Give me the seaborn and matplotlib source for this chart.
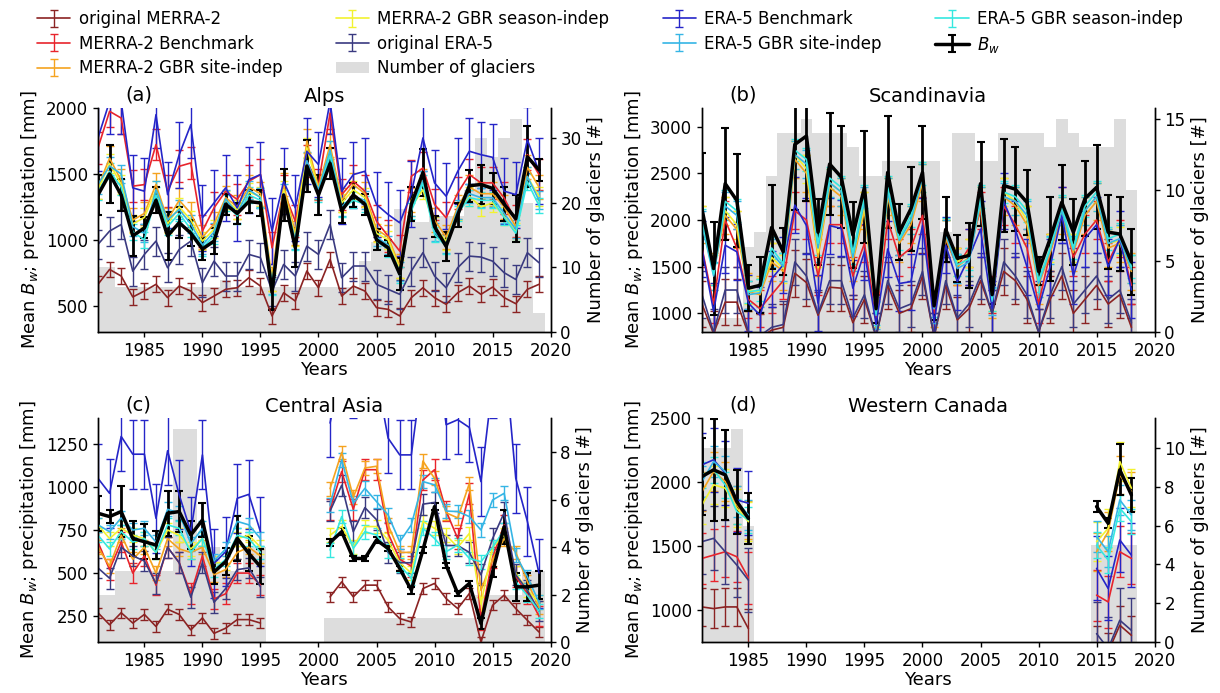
import numpy as np
import matplotlib
matplotlib.use("Agg")
import matplotlib.pyplot as plt
from matplotlib.patches import Patch
from matplotlib.ticker import MultipleLocator
import seaborn as sns

nan = np.nan
gap5 = [nan] * 5
gap29 = [nan] * 29

series_names = ["original MERRA-2", "MERRA-2 Benchmark", "MERRA-2 GBR site-indep",
                "MERRA-2 GBR season-indep", "original ERA-5", "ERA-5 Benchmark",
                "ERA-5 GBR site-indep", "ERA-5 GBR season-indep"]
series_colors = ["#8b2323", "#e8242c", "#f5a31f", "#f2f230",
                 "#3a3a80", "#2525c8", "#35b5e5", "#35e8e0"]

# ---------------- (a) Alps, 1981-2019 ----------------
alps_years = list(range(1981, 2020))
alps_glaciers = [10, 10, 7, 7, 7, 7, 7, 7, 7, 7, 7, 8, 7, 7, 7, 7, 7, 7, 7, 7,
                 7, 7, 7, 11, 14, 14, 19, 17, 17, 18, 18, 18, 22, 30, 27, 30, 33, 20, 3]
alps_merra_orig = [662, 775, 725, 566, 611, 662, 561, 649, 611, 523,
                   573, 624, 636, 712, 649, 422, 598, 535, 763, 636,
                   851, 573, 649, 611, 485, 472, 422, 561, 636, 561,
                   510, 598, 649, 586, 641, 561, 515, 624, 662]
alps_merra_bench = [1697, 1975, 1924, 1407, 1419, 1722, 1369, 1558, 1583, 1066,
                    1242, 1369, 1306, 1444, 1495, 939, 1369, 1141, 1596, 1419,
                    1962, 1343, 1444, 1369, 1141, 1028, 914, 1482, 1545, 1268,
                    1167, 1356, 1495, 1432, 1432, 1318, 1141, 1646, 1495]
alps_merra_site = [1400, 1620, 1450, 1150, 1200, 1420, 1150, 1300, 1200, 1020,
                   1120, 1320, 1250, 1400, 1350, 700, 1420, 1050, 1750, 1400,
                   1720, 1300, 1420, 1350, 1080, 1020, 800, 1300, 1450, 1150,
                   1020, 1250, 1400, 1350, 1350, 1250, 1100, 1550, 1400]
alps_merra_season = [1380, 1580, 1420, 1120, 1170, 1380, 1120, 1250, 1150, 990,
                     1080, 1300, 1230, 1360, 1330, 680, 1380, 1020, 1700, 1380,
                     1680, 1280, 1380, 1320, 1050, 1000, 780, 1250, 1380, 1100,
                     990, 1220, 1330, 1250, 1280, 1180, 1060, 1480, 1330]
alps_era_orig = [965, 1066, 1116, 762, 889, 990, 788, 927, 990, 674,
                 838, 725, 725, 889, 864, 611, 813, 725, 952, 889,
                 1116, 712, 801, 801, 662, 624, 586, 763, 902, 725,
                 636, 788, 876, 869, 838, 750, 699, 902, 826]
alps_era_bench = [1773, 2050, 2050, 1394, 1369, 1950, 1343, 1646, 1874, 1167,
                  1280, 1394, 1242, 1457, 1495, 1066, 1444, 1242, 1672, 1571,
                  2050, 1369, 1495, 1520, 1268, 1192, 1129, 1350, 1773, 1432,
                  1331, 1520, 1672, 1646, 1626, 1369, 1343, 1760, 1520]
alps_era_site = [1420, 1560, 1500, 1100, 1050, 1380, 1150, 1230, 1120, 960,
                 1060, 1310, 1200, 1380, 1320, 660, 1350, 1000, 1600, 1380,
                 1680, 1250, 1330, 1300, 1020, 960, 760, 1250, 1450, 1060,
                 970, 1230, 1350, 1320, 1320, 1200, 1080, 1480, 1300]
alps_era_season = [1360, 1520, 1400, 1060, 1000, 1340, 1100, 1200, 1080, 940,
                   1030, 1280, 1180, 1340, 1300, 640, 1320, 980, 1560, 1350,
                   1640, 1230, 1300, 1270, 990, 930, 730, 1220, 1430, 1040,
                   950, 1200, 1320, 1300, 1300, 1170, 1050, 1440, 1260]
alps_bw = [1340, 1500, 1340, 1030, 1090, 1300, 1030, 1130, 1050, 930,
           990, 1270, 1200, 1290, 1280, 600, 1340, 940, 1560, 1340,
           1580, 1220, 1340, 1270, 1000, 940, 740, 1270, 1510, 1100,
           950, 1190, 1410, 1420, 1390, 1270, 1160, 1630, 1530]
alps_bw_err = [150, 220, 120, 150, 80, 100, 180, 120, 100, 80,
               100, 80, 80, 90, 100, 130, 200, 150, 200, 150,
               120, 90, 90, 80, 80, 60, 120, 130, 180, 80,
               110, 90, 120, 150, 120, 130, 180, 230, 80]
alps_err = [60, 120, 90, 70, 110, 250, 70, 60]

# ---------------- (b) Scandinavia, 1981-2018 ----------------
scan_years = list(range(1981, 2019))
scan_glaciers = [1, 1, 1, 1, 6, 7, 11, 14, 14, 15, 14, 14, 14, 13, 11, 11, 12, 12, 12, 12,
                 12, 7, 14, 14, 12, 12, 14, 14, 14, 14, 13, 15, 14, 13, 13, 13, 15, 10]
scan_merra_orig = [1100, 780, 1120, 1120, 780, 740, 820, 850, 1430, 1330,
                   980, 1280, 1270, 900, 1150, 750, 1300, 1000, 1050, 1400,
                   750, 1300, 930, 1050, 1350, 1000, 1450, 1350, 1150, 800,
                   1150, 1400, 1000, 1150, 1300, 1100, 1200, 850]
scan_merra_bench = [1700, 1100, 2000, 1700, 1150, 1050, 1200, 1350, 2100, 2000,
                    1400, 1950, 1950, 1400, 1750, 950, 2000, 1600, 1700, 2050,
                    1000, 1800, 1500, 1700, 2100, 1200, 2150, 1950, 1700, 1100,
                    1650, 2150, 1600, 1850, 2000, 1550, 1800, 1300]
scan_merra_site = [1950, 1450, 2050, 1900, 1230, 1200, 1550, 1450, 2650, 2500,
                   1600, 2350, 2250, 1550, 2100, 980, 2250, 1750, 1950, 2400,
                   1050, 1800, 1500, 1600, 2150, 1150, 2250, 2150, 1950, 1300,
                   1650, 2050, 1650, 2050, 2200, 1700, 1750, 1450]
scan_merra_season = [2000, 1480, 2100, 1950, 1250, 1230, 1600, 1480, 2700, 2550,
                     1650, 2400, 2300, 1600, 2150, 1000, 2300, 1780, 2000, 2450,
                     1080, 1850, 1550, 1650, 2200, 1180, 2300, 2200, 2000, 1330,
                     1700, 2100, 1700, 2100, 2250, 1750, 1780, 1480]
scan_era_orig = [1200, 800, 1250, 1250, 800, 760, 850, 880, 1550, 1400,
                 1000, 1350, 1350, 950, 1200, 750, 1350, 1050, 1100, 1450,
                 750, 1350, 950, 1100, 1400, 1000, 1550, 1400, 1200, 800,
                 1200, 1500, 1100, 1250, 1400, 1150, 1250, 900]
scan_era_bench = [1690, 1020, 1730, 1660, 1110, 980, 1370, 1520, 2160, 1940,
                  1110, 1940, 1910, 1270, 1660, 880, 1690, 1320, 1340, 1940,
                  900, 1730, 1340, 1600, 1900, 1050, 2200, 1900, 1500, 1050,
                  1500, 2050, 1400, 1800, 1950, 1500, 1800, 1250]
scan_era_site = [1950, 1400, 2150, 2050, 1200, 1220, 1650, 1500, 2700, 2600,
                 1700, 2400, 2300, 1600, 2200, 980, 2300, 1780, 2000, 2450,
                 1050, 1850, 1480, 1550, 2200, 1130, 2250, 2200, 2050, 1320,
                 1680, 2100, 1680, 2100, 2250, 1750, 1800, 1470]
scan_era_season = [2000, 1420, 2200, 2100, 1230, 1250, 1700, 1530, 2750, 2650,
                   1750, 2450, 2350, 1650, 2250, 1000, 2350, 1800, 2050, 2500,
                   1080, 1900, 1520, 1580, 2250, 1150, 2300, 2250, 2100, 1350,
                   1700, 2150, 1700, 2150, 2300, 1800, 1850, 1500]
scan_bw = [2120, 1480, 2390, 2210, 1270, 1300, 1920, 1660, 2810, 2900,
           1870, 2600, 2460, 1840, 2350, 1050, 2510, 1870, 2120, 2510,
           1080, 1900, 1590, 1620, 2390, 1200, 2370, 2330, 2190, 1450,
           1800, 2190, 1870, 2230, 2350, 1870, 1850, 1550]
scan_bw_err = [600, 500, 600, 500, 250, 300, 450, 250, 700, 700,
               350, 550, 550, 350, 600, 150, 600, 300, 450, 500,
               150, 350, 250, 350, 450, 100, 500, 450, 350, 150,
               450, 400, 350, 400, 450, 400, 400, 350]
scan_err = [250, 200, 200, 150, 250, 300, 150, 120]

# ---------------- (c) Central Asia, 1981-2019 (gap 1996-2000) ----------------
casia_years = list(range(1981, 2020))
casia_glaciers = [2, 2, 3, 3, 3, 3, 3, 9, 9, 4, 4, 3, 3, 4, 4, 0, 0, 0, 0, 0,
                  1, 1, 1, 1, 1, 1, 1, 1, 1, 1, 1, 1, 1, 2, 2, 2, 2, 3, 3]
casia_merra_orig = [270, 200, 270, 210, 260, 190, 290, 260, 170, 240, 150, 180, 230, 230, 210] + gap5 + \
                   [362, 449, 362, 430, 430, 304, 236, 216, 410, 440, 352, 294, 381, 100, 313, 372, 294, 226, 158]
casia_merra_bench = [680, 520, 680, 500, 600, 430, 650, 560, 380, 600, 350, 380, 500, 500, 430] + gap5 + \
                    [870, 1090, 870, 1100, 1100, 730, 580, 540, 1040, 1100, 860, 700, 960, 230, 590, 780, 480, 380, 250]
casia_merra_site = [650, 540, 720, 580, 650, 500, 700, 640, 620, 650, 490, 520, 620, 650, 600] + gap5 + \
                   [990, 1200, 940, 1110, 1120, 780, 620, 620, 1150, 1050, 850, 820, 1020, 400, 580, 700, 620, 450, 300]
casia_merra_season = [780, 700, 760, 720, 700, 620, 750, 720, 640, 700, 560, 560, 700, 720, 650] + gap5 + \
                     [720, 770, 650, 770, 770, 690, 560, 500, 800, 760, 720, 650, 730, 320, 650, 720, 500, 400, 330]
casia_era_orig = [530, 470, 650, 600, 570, 440, 650, 560, 360, 560, 330, 410, 520, 530, 420] + gap5 + \
                 [860, 1010, 740, 880, 810, 620, 560, 560, 900, 910, 660, 660, 620, 490, 700, 850, 490, 400, 280]
casia_era_bench = [1050, 963, 1293, 1190, 1190, 818, 1210, 954, 740, 1186, 556, 624, 934, 957, 740] + gap5 + \
                  [1371, 1700, 1600, 1750, 1650, 1283, 1186, 1186, 1700, 1900, 1361, 1390, 1345, 1031, 1600, 1800, 1050, 800, 500]
casia_era_site = [780, 740, 820, 750, 760, 680, 870, 850, 670, 760, 570, 640, 800, 780, 700] + gap5 + \
                 [895, 1157, 905, 992, 915, 837, 682, 780, 1031, 1012, 860, 857, 828, 750, 924, 963, 604, 480, 330]
casia_era_season = [720, 640, 740, 680, 700, 620, 780, 760, 620, 700, 520, 580, 720, 700, 620] + gap5 + \
                   [634, 828, 643, 740, 721, 630, 546, 469, 760, 701, 624, 663, 585, 566, 650, 750, 450, 370, 280]
casia_bw = [847, 828, 857, 701, 682, 663, 847, 857, 721, 808, 507, 566, 701, 614, 537] + gap5 + \
           [678, 740, 585, 585, 692, 643, 527, 401, 634, 886, 546, 381, 440, 207, 507, 769, 420, 420, 430]
casia_bw_err = [100, 40, 150, 100, 100, 80, 130, 120, 80, 100, 70, 80, 130, 100, 100] + gap5 + \
               [20, 20, 15, 15, 15, 15, 15, 20, 15, 20, 15, 15, 15, 30, 30, 100, 80, 80, 80]
casia_err = [30, 60, 40, 40, 60, 200, 40, 40]

# ---------------- (d) Western Canada, 1981-2019 (gap 1986-2014) ----------------
wcan_years = list(range(1981, 2020))
wcan_glaciers = [10, 10, 10, 11, 6] + [0] * 29 + [5, 5, 5, 5, 0]
wcan_merra_orig = [1024, 1011, 1024, 1024, 854] + gap29 + [724, 672, 881, 802, nan]
wcan_merra_bench = [1403, 1429, 1455, 1416, 1250] + gap29 + [1116, 1063, 1455, 1403, nan]
wcan_merra_site = [1925, 2082, 2004, 1821, 1703] + gap29 + [1455, 1612, 2056, 1925, nan]
wcan_merra_season = [1821, 1978, 1952, 1795, 1690] + gap29 + [1534, 1638, 2160, 1952, nan]
wcan_era_orig = [1534, 1560, 1455, 1351, 1233] + gap29 + [815, 698, 920, 841, nan]
wcan_era_bench = [2134, 2174, 2069, 1860, 1834] + gap29 + [1325, 1168, 1547, 1429, nan]
wcan_era_site = [2004, 2160, 2082, 1847, 1742] + gap29 + [1573, 1455, 1860, 1742, nan]
wcan_era_season = [2056, 2095, 1978, 1769, 1703] + gap29 + [1507, 1390, 1795, 1690, nan]
wcan_bw = [2043, 2095, 2056, 1847, 1716] + gap29 + [1808, 1677, 2095, 1899, nan]
wcan_bw_err = [300, 400, 350, 250, 200] + gap29 + [40, 40, 200, 130, nan]
wcan_err = [150, 200, 150, 150, 250, 250, 120, 100]


def draw_panel(rect, letter, title, years, series, errs, bw, bw_err, glaciers,
               ylim, ystep, glim, gstep):
    ax = fig.add_axes(rect)
    ax2 = ax.twinx()
    ax2.bar(years, glaciers, width=1.0, color="#dddddd", linewidth=0)
    ax2.set_ylim(*glim)
    ax2.yaxis.set_major_locator(MultipleLocator(gstep))
    ax2.set_ylabel("Number of glaciers [#]", fontsize=13)
    ax2.tick_params(labelsize=12, length=3.5, width=1.0)
    ax.set_zorder(ax2.get_zorder() + 1)
    ax.patch.set_visible(False)

    handles = []
    for vals, err, color in zip(series, errs, series_colors):
        h = ax.errorbar(years, vals, yerr=err, color=color, lw=1.2,
                        elinewidth=1.0, capsize=3)
        handles.append(h)
    hb = ax.errorbar(years, bw, yerr=bw_err, color="black", lw=2.5,
                     elinewidth=2.0, capsize=3, capthick=1.5)
    handles.append(hb)

    ax.set_xlim(1981, 2020)
    ax.xaxis.set_major_locator(MultipleLocator(5))
    ax.set_ylim(*ylim)
    ax.yaxis.set_major_locator(MultipleLocator(ystep))
    ax.tick_params(labelsize=12, length=3.5, width=1.0)
    ax.set_xlabel("Years", fontsize=13, labelpad=1)
    ax.set_ylabel("Mean $B_w$; precipitation [mm]", fontsize=13)
    ax.set_title(title, fontsize=14, pad=4)
    ax.text(0.06, 1.015, letter, transform=ax.transAxes, fontsize=14, va="bottom")
    for a in (ax, ax2):
        a.spines["top"].set_visible(False)
        for s in ("left", "right", "bottom"):
            a.spines[s].set_linewidth(1.0)
    return handles


sns.set_theme(style="ticks", rc={"text.color": "black", "axes.labelcolor": "black",
                                 "xtick.color": "black", "ytick.color": "black",
                                 "axes.edgecolor": "black"})
plt.rcParams["font.family"] = ["DejaVu Sans"]

fig = plt.figure(figsize=(12.2, 6.93), dpi=100)

left_col, right_col = 0.0803, 0.5754
col_w = 0.371
top_row, bot_row = 0.5209, 0.0736
row_h = 0.3232

handles = draw_panel([left_col, top_row, col_w, row_h], "(a)", "Alps", alps_years,
                     [alps_merra_orig, alps_merra_bench, alps_merra_site, alps_merra_season,
                      alps_era_orig, alps_era_bench, alps_era_site, alps_era_season],
                     alps_err, alps_bw, alps_bw_err, alps_glaciers,
                     (300, 2000), 500, (0, 34.65), 10)
draw_panel([right_col, top_row, col_w, row_h], "(b)", "Scandinavia", scan_years,
           [scan_merra_orig, scan_merra_bench, scan_merra_site, scan_merra_season,
            scan_era_orig, scan_era_bench, scan_era_site, scan_era_season],
           scan_err, scan_bw, scan_bw_err, scan_glaciers,
           (800, 3200), 500, (0, 15.75), 5)
draw_panel([left_col, bot_row, col_w, row_h], "(c)", "Central Asia", casia_years,
           [casia_merra_orig, casia_merra_bench, casia_merra_site, casia_merra_season,
            casia_era_orig, casia_era_bench, casia_era_site, casia_era_season],
           casia_err, casia_bw, casia_bw_err, casia_glaciers,
           (100, 1400), 250, (0, 9.45), 2)
draw_panel([right_col, bot_row, col_w, row_h], "(d)", "Western Canada", wcan_years,
           [wcan_merra_orig, wcan_merra_bench, wcan_merra_site, wcan_merra_season,
            wcan_era_orig, wcan_era_bench, wcan_era_site, wcan_era_season],
           wcan_err, wcan_bw, wcan_bw_err, wcan_glaciers,
           (750, 2500), 500, (0, 11.55), 2)

bar_handle = Patch(facecolor="#dddddd", edgecolor="none")
leg_handles = handles[:5] + [bar_handle] + handles[5:]
leg_labels = series_names[:5] + ["Number of glaciers"] + series_names[5:] + ["$B_w$"]
fig.legend(leg_handles, leg_labels, ncol=4, loc="upper center",
           bbox_to_anchor=(0.5, 1.0), frameon=False, fontsize=12,
           columnspacing=3.2, handletextpad=0.5, labelspacing=0.4,
           borderaxespad=0.2)

fig.savefig("out.png", dpi=100)
